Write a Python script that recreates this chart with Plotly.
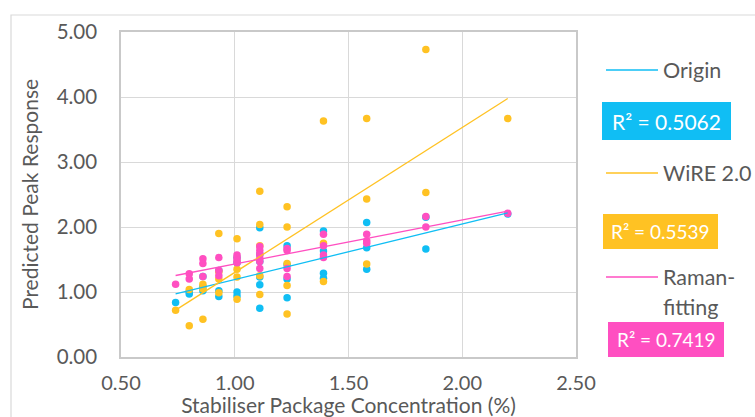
import numpy as np
import plotly.graph_objects as go

# Stabiliser package concentration (%) and predicted peak response per method
origin_x = [0.74, 0.80, 0.80, 0.86, 0.86, 0.86, 0.93, 0.93, 0.93,
            1.01, 1.01, 1.01, 1.01, 1.11, 1.11, 1.11, 1.11, 1.11, 1.11,
            1.23, 1.23, 1.23, 1.23, 1.39, 1.39, 1.39, 1.39,
            1.58, 1.58, 1.58, 1.84, 1.84, 2.20]
origin_y = [0.84, 0.97, 1.00, 1.24, 1.08, 1.02, 1.33, 1.02, 0.93,
            1.53, 1.45, 1.00, 0.94, 1.99, 1.58, 1.47, 1.23, 1.11, 0.75,
            1.71, 1.42, 1.20, 0.91, 1.94, 1.63, 1.29, 1.21,
            2.07, 1.68, 1.35, 2.15, 1.66, 2.20]

wire_x = [0.74, 0.80, 0.80, 0.86, 0.86, 0.86, 0.93, 0.93, 0.93, 0.93,
          1.01, 1.01, 1.01, 1.01, 1.11, 1.11, 1.11, 1.11, 1.11,
          1.23, 1.23, 1.23, 1.23, 1.23, 1.39, 1.39, 1.39,
          1.58, 1.58, 1.58, 1.84, 1.84, 2.20]
wire_y = [0.72, 1.04, 0.48, 1.12, 1.05, 0.58, 1.90, 1.31, 1.20, 0.99,
          1.82, 1.35, 1.23, 0.89, 2.55, 2.04, 1.71, 1.25, 0.96,
          2.31, 2.00, 1.44, 1.10, 0.66, 3.63, 1.75, 1.16,
          3.67, 2.43, 1.43, 4.73, 2.53, 3.67]

raman_x = [0.74, 0.80, 0.80, 0.86, 0.86, 0.86, 0.93, 0.93, 0.93,
           1.01, 1.01, 1.01, 1.01, 1.11, 1.11, 1.11, 1.11, 1.11, 1.11,
           1.23, 1.23, 1.23, 1.23, 1.39, 1.39, 1.39, 1.39,
           1.58, 1.58, 1.58, 1.84, 1.84, 2.20]
raman_y = [1.12, 1.28, 1.20, 1.51, 1.44, 1.24, 1.53, 1.33, 1.25,
           1.57, 1.53, 1.49, 1.45, 1.70, 1.64, 1.58, 1.52, 1.47, 1.36,
           1.67, 1.64, 1.36, 1.24, 1.89, 1.71, 1.57, 1.53,
           1.89, 1.79, 1.75, 2.16, 2.00, 2.21]

series_names = ["Origin", "WiRE 2.0", "Raman-fitting"]
r2_labels = ["R² = 0.5062", "R² = 0.5539", "R² = 0.7419"]
x_ticks = [0.5, 1.0, 1.5, 2.0, 2.5]
y_ticks = [0, 1, 2, 3, 4, 5]

BLUE = "#10BEF4"
GOLD = "#FFC223"
PINK = "#FF4FC1"
TEXT = "#595959"
FONT = "Lato, 'Open Sans', sans-serif"

W, H = 755, 417
L, R, T, B = 121, 179, 32, 60
PW, PH = W - L - R, H - T - B


def px(x):
    return (x - L) / PW


def py(y):
    return (H - B - y) / PH


fig = go.Figure()
data = [(origin_x, origin_y, BLUE), (wire_x, wire_y, GOLD), (raman_x, raman_y, PINK)]

for (xs, ys, col), name in zip(data, series_names):
    fig.add_trace(go.Scatter(x=xs, y=ys, mode="markers", name=name,
                             marker=dict(color=col, size=7.5, line=dict(width=0)),
                             showlegend=False))

# Linear trendlines fitted to each series
for (xs, ys, col), name in zip(data, series_names):
    k, b = np.polyfit(xs, ys, 1)
    xl = np.array([min(xs), max(xs)])
    fig.add_trace(go.Scatter(x=xl, y=k * xl + b, mode="lines", name=name,
                             line=dict(color=col, width=1.3), showlegend=False))

shapes = [
    # outer chart border
    dict(type="rect", xref="paper", yref="paper", x0=px(11), x1=px(790),
         y0=py(440), y1=py(15), line=dict(color="#D9D9D9", width=1.2)),
]
annotations = []

# Legend: line samples, names and R² boxes
legend_rows = [70, 173, 277]
boxes = [(602, 731, 102, 140, 21), (603, 718, 214, 249, 19), (608, 724, 322, 357, 19)]
for (xs, ys, col), name, ly, (bx0, bx1, by0, by1, fs), r2 in zip(
        data, series_names, legend_rows, boxes, r2_labels):
    shapes.append(dict(type="line", xref="paper", yref="paper",
                       x0=px(606), x1=px(658), y0=py(ly), y1=py(ly),
                       line=dict(color=col, width=1.6)))
    shapes.append(dict(type="rect", xref="paper", yref="paper",
                       x0=px(bx0), x1=px(bx1), y0=py(by1), y1=py(by0),
                       fillcolor=col, line=dict(width=0), layer="above"))
    annotations.append(dict(xref="paper", yref="paper", x=px((bx0 + bx1) / 2),
                            y=py((by0 + by1) / 2), text=r2, showarrow=False,
                            xanchor="center", yanchor="middle",
                            font=dict(family=FONT, size=fs, color="white")))

legend_text = [("Origin", 70), ("WiRE 2.0", 173), ("Raman-", 277), ("fitting", 307)]
for txt, ty in legend_text:
    annotations.append(dict(xref="paper", yref="paper", x=px(661), y=py(ty),
                            text=txt, showarrow=False, xanchor="left", yanchor="middle",
                            font=dict(family=FONT, size=21.5, color=TEXT)))

fig.update_layout(
    width=W, height=H,
    margin=dict(l=L, r=R, t=T, b=B, autoexpand=False),
    paper_bgcolor="white", plot_bgcolor="white",
    font=dict(family=FONT, size=20, color=TEXT),
    shapes=shapes, annotations=annotations,
    xaxis=dict(range=[0.5, 2.5], tickvals=x_ticks, ticktext=[f"{v:.2f}" for v in x_ticks],
               showgrid=True, gridcolor="#D9D9D9", gridwidth=1.2,
               showline=True, linecolor="#C9C9C9", linewidth=1.5, mirror=True,
               zeroline=False, ticks="", ticklabelstandoff=7,
               tickfont=dict(size=20),
               title=dict(text="Stabiliser Package Concentration (%)", standoff=4,
                          font=dict(size=21, color=TEXT))),
    yaxis=dict(range=[0, 5], tickvals=y_ticks, ticktext=[f"{v:.2f}" for v in y_ticks],
               showgrid=True, gridcolor="#D9D9D9", gridwidth=1.2,
               showline=True, linecolor="#C9C9C9", linewidth=1.5, mirror=True,
               zeroline=False, ticks="", ticklabelstandoff=18,
               tickfont=dict(size=20.5),
               title=dict(text="Predicted Peak Response", standoff=12,
                          font=dict(size=21, color=TEXT))),
)

fig.write_html("out.html")
